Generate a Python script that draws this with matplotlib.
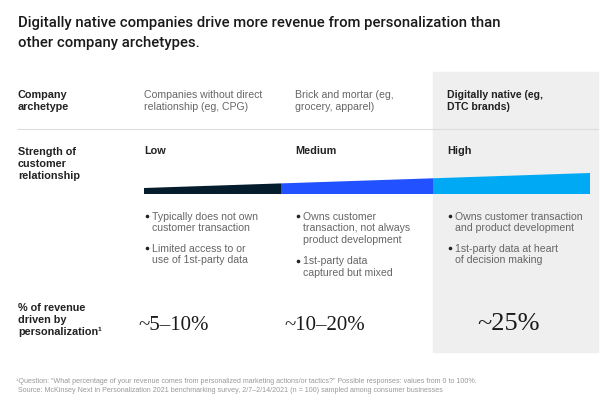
import matplotlib.pyplot as plt
from matplotlib.patches import Polygon, Rectangle

title = ("Digitally native companies drive more revenue from personalization than\n"
         "other company archetypes.")
row_labels = ["Company\narchetype", "Strength of\ncustomer\nrelationship",
              "% of revenue\ndriven by\npersonalization\u00b9"]
archetypes = ["Companies without direct\nrelationship (eg, CPG)",
              "Brick and mortar (eg,\ngrocery, apparel)",
              "Digitally native (eg,\nDTC brands)"]
strength = ["Low", "Medium", "High"]
bullets = [
    ["Typically does not own\ncustomer transaction", "Limited access to or\nuse of 1st-party data"],
    ["Owns customer\ntransaction, not always\nproduct development", "1st-party data\ncaptured but mixed"],
    ["Owns customer transaction\nand product development", "1st-party data at heart\nof decision making"],
]
revenue = ["~5\u201310%", "~10\u201320%", "~25%"]
footnote = ("\u00b9Question: \u201cWhat percentage of your revenue comes from personalized marketing "
            "actions/or tactics?\u201d Possible responses: values from 0 to 100%.\n"
            " Source: McKinsey Next in Personalization 2021 benchmarking survey, "
            "2/7\u20132/14/2021 (n = 100) sampled among consumer businesses")

bar_colors = ["#051c2c", "#2251ff", "#00a9f4"]
col_x = [144, 295, 447]
col_edges = [144, 281, 433, 590]

plt.rcParams["font.family"] = ["Liberation Sans", "DejaVu Sans"]
fig = plt.figure(figsize=(6, 4), dpi=100)
ax = fig.add_axes([0, 0, 1, 1])
ax.set_xlim(0, 600)
ax.set_ylim(400, 0)
ax.axis("off")

# highlighted column
ax.add_patch(Rectangle((433, 72), 165, 280, color="#efefef", zorder=0))

ax.text(18, 33, title, fontsize=10.7, color="#1a1a1a", va="center",
        linespacing=1.62, family="Roboto", weight="medium")

# row labels
lab = dict(fontsize=7.8, weight="bold", color="#222", va="center", linespacing=1.2)
ax.text(18, 101, row_labels[0], **lab)
ax.text(18, 164, row_labels[1], **lab)
ax.text(18, 320, row_labels[2], **lab)

ax.plot([18, 598], [129, 129], color="#dcdcdc", lw=0.8)

# wedge bar: thickness grows with relationship strength
bottom = 194
def top(x):
    return 188 - (x - 144) * 15 / 446

for i in range(3):
    x0, x1 = col_edges[i], col_edges[i + 1]
    ax.add_patch(Polygon([(x0, bottom), (x1, bottom), (x1, top(x1)), (x0, top(x0))],
                         closed=True, color=bar_colors[i], lw=0))

bullet_y = [[218, 250], [218, 263], [218, 250]]
for i in range(3):
    head_color = "#222" if i == 2 else "#666"
    head_weight = "bold" if i == 2 else "normal"
    ax.text(col_x[i], 101, archetypes[i], fontsize=7.6, color=head_color,
            weight=head_weight, va="center", linespacing=1.2)
    ax.text(col_x[i], 151, strength[i], fontsize=7.8, weight="bold",
            color="#222", va="center")
    for b, y in zip(bullets[i], bullet_y[i]):
        ax.plot(col_x[i] + 2.5, y - 1.8, "o", ms=2.6, color="#222", mew=0)
        ax.text(col_x[i] + 8, y - 6.5, b, fontsize=7.6, color="#666", va="top",
                linespacing=1.22)

ax.text(138, 325, revenue[0], fontsize=15, family="Liberation Serif",
        color="#1a1a1a", va="center")
ax.text(284, 325, revenue[1], fontsize=15, family="Liberation Serif",
        color="#1a1a1a", va="center")
ax.text(509, 324, revenue[2], fontsize=19, family="Liberation Serif",
        color="#1a1a1a", va="center", ha="center")

ax.text(16, 386, footnote, fontsize=5.1, color="#999", va="center", linespacing=1.3)

fig.savefig("out.png", dpi=100)
